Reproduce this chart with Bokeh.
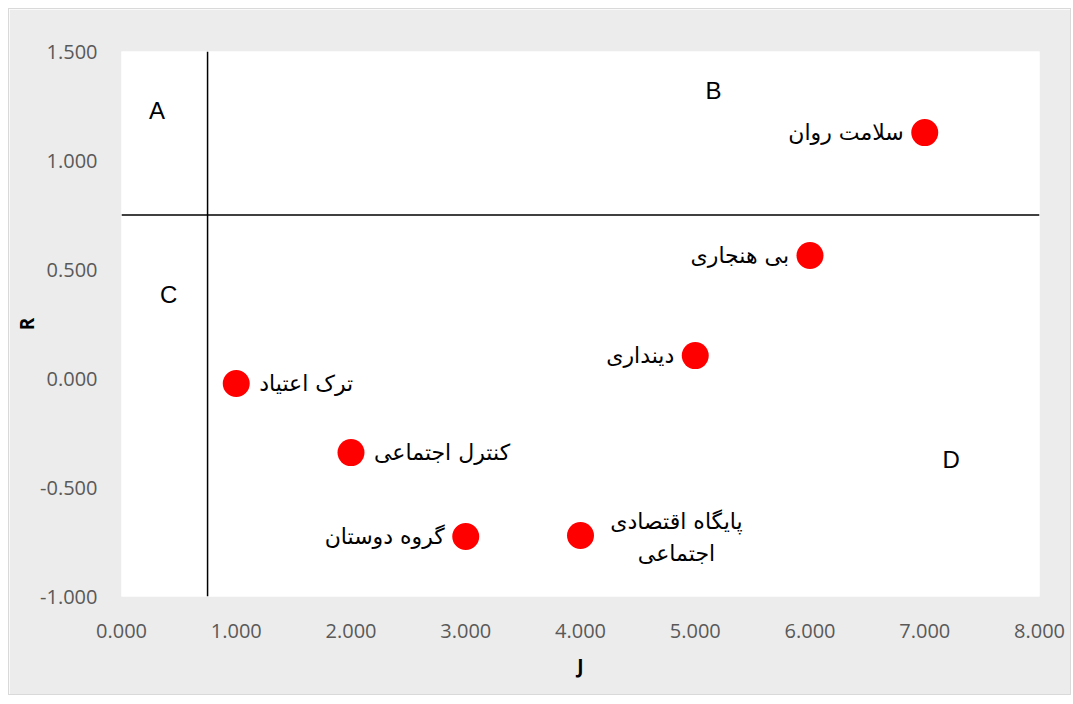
from bokeh.plotting import figure
from bokeh.models import Range1d, FixedTicker, NumeralTickFormatter, Span, ColumnDataSource
from bokeh.core.properties import value
from bokeh.embed import file_html
from bokeh.resources import INLINE

# Data
names = ["ترک اعتیاد", "کنترل اجتماعی", "گروه دوستان", "پایگاه اقتصادی\nاجتماعی",
         "دینداری", "بی هنجاری", "سلامت روان"]
j_values = [1.0, 2.0, 3.0, 4.0, 5.0, 6.0, 7.0]
r_values = [-0.023, -0.34, -0.725, -0.72, 0.105, 0.564, 1.128]
label_side = ["right", "right", "left", "below", "left", "left", "left"]

quadrant_letters = ["A", "B", "C", "D"]
quadrant_x = [0.31, 5.16, 0.41, 7.23]
quadrant_y = [1.23, 1.32, 0.385, -0.37]

cut_j = 0.75
cut_r = 0.75

x_ticks = [0, 1, 2, 3, 4, 5, 6, 7, 8]
y_ticks = [-1.0, -0.5, 0.0, 0.5, 1.0, 1.5]

p = figure(width=1063, height=687, output_backend="svg", toolbar_location=None,
           x_range=Range1d(0, 8), y_range=Range1d(-1, 1.5),
           min_border_left=112, min_border_top=42, min_border_right=33, min_border_bottom=100)
p.background_fill_color = "white"
p.border_fill_color = "#ececec"
p.outline_line_color = None
p.styles = {"border": "1px solid #d9d9d9", "margin-left": "8px", "margin-top": "8px"}
p.xgrid.visible = False
p.ygrid.visible = False

for ax in (p.xaxis[0], p.yaxis[0]):
    ax.axis_line_color = None
    ax.major_tick_line_color = None
    ax.minor_tick_line_color = None
    ax.major_label_text_color = "#595959"
    ax.major_label_text_font = "Open Sans"
    ax.major_label_text_font_size = "20px"
    ax.formatter = NumeralTickFormatter(format="0.000")
    ax.axis_label_text_font = "Open Sans"
    ax.axis_label_text_font_style = "bold"
    ax.axis_label_text_font_size = "19px"
    ax.axis_label_text_color = "black"

p.xaxis.ticker = FixedTicker(ticks=x_ticks)
p.yaxis.ticker = FixedTicker(ticks=y_ticks)
p.xaxis.major_label_standoff = 21
p.yaxis.major_label_standoff = 18
p.xaxis.axis_label = "J"
p.yaxis.axis_label = "R"
p.xaxis.axis_label_standoff = 12
p.yaxis.axis_label_standoff = -3

p.add_layout(Span(location=cut_j, dimension="height", line_color="black", line_width=1.5))
p.add_layout(Span(location=cut_r, dimension="width", line_color="black", line_width=1.5))

src = ColumnDataSource(dict(x=j_values, y=r_values, name=names))
p.scatter("x", "y", source=src, size=27, fill_color="#ff0000", line_color=None)

def subset(side):
    idx = [i for i, s in enumerate(label_side) if s == side]
    return ColumnDataSource(dict(x=[j_values[i] for i in idx], y=[r_values[i] for i in idx],
                                 name=[names[i] for i in idx]))

font = value("DejaVu Sans")
common = dict(text="name", text_font=font, text_font_size="22px", text_color="black",
              text_baseline="middle")
p.text("x", "y", source=subset("left"), text_align="right", x_offset=-21, **common)
p.text("x", "y", source=subset("right"), text_align="left", x_offset=23, **common)
p.text("x", "y", source=subset("below"), text_align="center", x_offset=96, y_offset=2,
       line_height=1.3, **common)

qsrc = ColumnDataSource(dict(x=quadrant_x, y=quadrant_y, t=quadrant_letters))
p.text("x", "y", text="t", source=qsrc, text_font=value("Liberation Sans"),
       text_font_size="24px", text_color="black", text_align="center", text_baseline="middle")

open("out.html", "w").write(file_html(p, INLINE))
